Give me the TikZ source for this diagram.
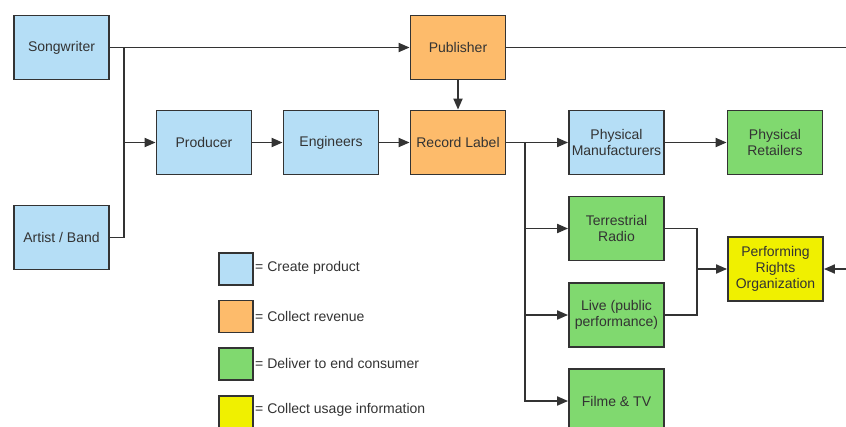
\documentclass[tikz,border=0pt]{standalone}
\usepackage{fontspec}
\setmainfont{Liberation Sans}
\usetikzlibrary{arrows.meta}
\definecolor{cblue}{HTML}{B5DEF6}
\definecolor{corange}{HTML}{FDBB6B}
\definecolor{cgreen}{HTML}{80D96F}
\definecolor{cyellow}{HTML}{F0F000}
\definecolor{cedge}{HTML}{333333}
\definecolor{ctext}{HTML}{333333}
\tikzset{
  box/.style={draw=cedge, line width=1.8pt, rectangle, minimum width=95pt, minimum height=64pt,
    inner sep=0pt, align=center, text=ctext, font=\fontsize{14}{16}\selectfont},
  legbox/.style={draw=cedge, line width=1.8pt, rectangle, minimum width=34pt, minimum height=32pt, inner sep=0pt},
  legtext/.style={anchor=west, inner sep=0pt, text=ctext, font=\fontsize{14}{16}\selectfont},
  conn/.style={draw=cedge, line width=1.8pt},
  arr/.style={conn, -{Triangle[length=11pt,width=9pt]}},
}
\begin{document}
\begin{tikzpicture}[x=1pt,y=-1pt]
\useasboundingbox[fill=white] (0,0) rectangle (846,426);
% nodes
\node[box, fill=cblue] (song) at (61.5,47.5) {Songwriter};
\node[box, fill=cblue] (artist) at (61.5,237.5) {Artist / Band};
\node[box, fill=cblue] (prod) at (204,142.5) {Producer};
\node[box, fill=cblue] (eng) at (331,142.5) {Engineers};
\node[box, fill=corange] (pub) at (458,47.5) {Publisher};
\node[box, fill=corange] (rl) at (458,142.5) {Record Label};
\node[box, fill=cblue] (pm) at (616.5,142.5) {Physical\\Manufacturers};
\node[box, fill=cgreen] (pr) at (775,142.5) {Physical\\Retailers};
\node[box, fill=cgreen] (radio) at (616.5,228.5) {Terrestrial\\Radio};
\node[box, fill=cgreen] (live) at (616.5,315) {Live (public\\performance)};
\node[box, fill=cgreen] (film) at (616.5,401) {Filme \& TV};
\node[box, fill=cyellow] (pro) at (775.5,269) {Performing\\Rights\\Organization};
% legend
\node[legbox, fill=cblue] (l1) at (236,269) {};
\node[legbox, fill=corange] (l2) at (236,316.5) {};
\node[legbox, fill=cgreen] (l3) at (236,364) {};
\node[legbox, fill=cyellow] (l4) at (236,412) {};
\node[legtext] (t1) at (255,268) {= Create product};
\node[legtext] (t2) at (255,316) {= Collect revenue};
\node[legtext] (t3) at (255,363) {= Deliver to end consumer};
\node[legtext] (t4) at (255,410) {= Collect usage information};
% junctions
\coordinate (j1) at (124,47.5);
\coordinate (j2) at (124,142.5);
\coordinate (j3) at (525,142.5);
\coordinate (j4) at (697,269);
\coordinate (eR1) at (846,47.5);
\coordinate (eR2) at (846,269);
% connectors
\draw[arr] (song.east) -- (pub.west);
\draw[conn] (artist.east) -| (j1);
\draw[arr] (j2) -- (prod.west);
\draw[arr] (prod.east) -- (eng.west);
\draw[arr] (eng.east) -- (rl.west);
\draw[arr] (pub.south) -- (rl.north);
\draw[conn] (pub.east) -- (eR1);
\draw[arr] (rl.east) -- (pm.west);
\draw[arr] (pm.east) -- (pr.west);
\draw[arr] (j3) |- (film.west);
\draw[arr] (j3 |- radio.west) -- (radio.west);
\draw[arr] (j3 |- live.west) -- (live.west);
\draw[conn] (radio.east) -| (j4);
\draw[conn] (live.east) -| (j4);
\draw[arr] (j4) -- (pro.west);
\draw[arr] (eR2) -- (pro.east);
\end{tikzpicture}
\end{document}
